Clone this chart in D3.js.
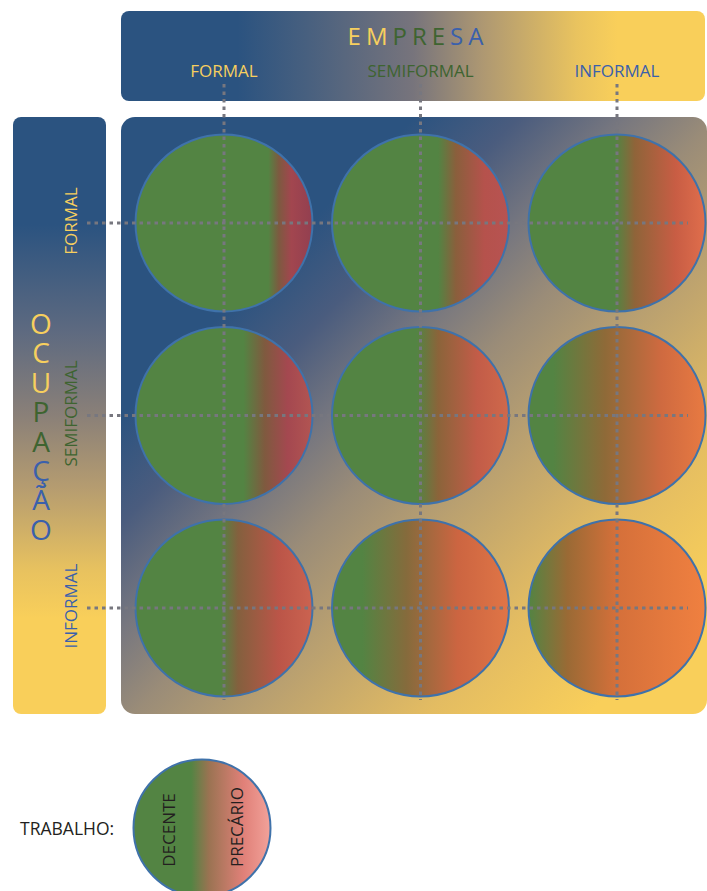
<!DOCTYPE html>
<html>
<head>
<meta charset="utf-8">
<script src="https://cdn.jsdelivr.net/npm/d3@7"></script>
<style>
  body { margin: 0; background: #fff; }
  text { font-family: "Open Sans", sans-serif; }
</style>
</head>
<body>
<div id="viz"></div>
<script>

/********
 * DATA *
 ********/

var EMPRESA = ["FORMAL", "SEMIFORMAL", "INFORMAL"];
var OCUPACAO = ["FORMAL", "SEMIFORMAL", "INFORMAL"];
var TITULO_EMPRESA = ["E", "M", "P", "R", "E", "S", "A"];
var TITULO_OCUPACAO = ["O", "C", "U", "P", "A", "Ç", "Ã", "O"];

// share of each circle (left to right) that is decent work, then the
// brown transition and where precarious work takes over; rows = ocupação
var DECENTE_ATE = [[0.75, 0.60, 0.49], [0.61, 0.48, 0.14], [0.48, 0.17, 0.00]];
var TRANSICAO_EM = [[0.81, 0.70, 0.60], [0.73, 0.60, 0.43], [0.58, 0.42, 0.22]];
var PRECARIO_DE = [[0.88, 0.86, 0.83], [0.86, 0.82, 0.75], [0.81, 0.71, 0.50]];
var COR_TRANSICAO = [["#7d5a40", "#8a5f3c", "#8f6439"], ["#7f5a3f", "#8b643a", "#8e6a38"], ["#84603e", "#856b3c", "#9a6a35"]];
var COR_PRECARIO = [["#a2464f", "#b5524c", "#c85d44"], ["#a44850", "#c25c48", "#cf6a40"], ["#bb5548", "#cc6541", "#d5703a"]];
var COR_FIM = [["#923f50", "#b75352", "#e06e4c"], ["#b25552", "#d0694b", "#e87a42"], ["#cb6350", "#e07546", "#f08040"]];

var LEGENDA = ["DECENTE", "PRECÁRIO"];

/**********
 * STYLES *
 **********/

var W = 707, H = 891;
var BLUE = "#2b5380", YELLOW = "#f9cf5a";
var GREEN = "#538443";
var LEVEL_COLORS = ["#f7cf5e", "#3e6430", "#3a60ac"];
var DOT = "#77777f";
var R = 88.5;

var svg = d3.select("#viz").append("svg")
    .attr("width", W)
    .attr("height", H);

var defs = svg.append("defs");

function gradient(id, x1, y1, x2, y2, stops) {
    var g = defs.append("linearGradient")
        .attr("id", id)
        .attr("x1", x1).attr("y1", y1)
        .attr("x2", x2).attr("y2", y2);
    g.selectAll("stop").data(stops).enter().append("stop")
        .attr("offset", function(d){ return d[0]; })
        .attr("stop-color", function(d){ return d[1]; });
    return "url(#" + id + ")";
}

var headerFill = gradient("gHeader", 0, 0, 1, 0, [
    [0, BLUE], [0.2, BLUE], [0.32, "#48607f"], [0.5, "#77747c"],
    [0.62, "#ae9872"], [0.78, "#e9c35f"], [0.85, YELLOW], [1, YELLOW]]);

var sideFill = gradient("gSide", 0, 0, 0, 1, [
    [0, BLUE], [0.18, BLUE], [0.36, "#5e6a80"], [0.5, "#8a8078"],
    [0.62, "#b59c70"], [0.76, "#e8c25f"], [0.84, YELLOW], [1, YELLOW]]);

var panelFill = gradient("gPanel", 0, 0, 1, 1, [
    [0, BLUE], [0.25, BLUE], [0.34, "#4a5c7e"], [0.43, "#77777f"],
    [0.51, "#9a8c78"], [0.61, "#b9a070"], [0.76, "#e3bc62"], [0.9, YELLOW], [1, YELLOW]]);

/*********
 * BOXES *
 *********/

svg.append("rect").attr("x", 121).attr("y", 11).attr("width", 584).attr("height", 90)
    .attr("rx", 8).style("fill", headerFill);
svg.append("rect").attr("x", 13).attr("y", 117).attr("width", 93).attr("height", 597)
    .attr("rx", 8).style("fill", sideFill);
svg.append("rect").attr("x", 121).attr("y", 117).attr("width", 586).attr("height", 597)
    .attr("rx", 14).style("fill", panelFill);

/**********
 * SCALES *
 **********/

var x = d3.scalePoint().domain(EMPRESA).range([224, 617]);
var y = d3.scalePoint().domain(OCUPACAO).range([223, 608]);

/***********
 * CIRCLES *
 ***********/

var cells = [];
OCUPACAO.forEach(function(o, i){
    EMPRESA.forEach(function(e, j){
        cells.push({ o: o, e: e, i: i, j: j });
    });
});

cells.forEach(function(d){
    var start = d.i === 2 && d.j === 2 ? "#5e7c3c" : GREEN;
    d.fill = gradient("gCell" + d.i + d.j, 0, 0, 1, 0, [
        [0, start],
        [DECENTE_ATE[d.i][d.j], GREEN],
        [TRANSICAO_EM[d.i][d.j], COR_TRANSICAO[d.i][d.j]],
        [PRECARIO_DE[d.i][d.j], COR_PRECARIO[d.i][d.j]],
        [1, COR_FIM[d.i][d.j]]]);
});

svg.append("g").selectAll("circle")
    .data(cells)
    .enter()
    .append("circle")
    .attr("cx", function(d){ return x(d.e); })
    .attr("cy", function(d){ return y(d.o); })
    .attr("r", R)
    .style("fill", function(d){ return d.fill; })
    .style("stroke", "#3f72aa")
    .style("stroke-width", 2);

/****************
 * DOTTED LINES *
 ****************/

var lines = svg.append("g")
    .style("stroke", DOT)
    .style("stroke-width", 3)
    .style("stroke-dasharray", "3.5,4");

lines.selectAll("line.v").data(EMPRESA).enter().append("line")
    .attr("class", "v")
    .attr("x1", function(d){ return x(d); }).attr("x2", function(d){ return x(d); })
    .attr("y1", 84).attr("y2", 700);

lines.selectAll("line.h").data(OCUPACAO).enter().append("line")
    .attr("class", "h")
    .attr("y1", function(d){ return y(d); }).attr("y2", function(d){ return y(d); })
    .attr("x1", 87).attr("x2", 688);

/**********
 * LABELS *
 **********/

var titleColor = function(i, n){
    return n === 7 ? LEVEL_COLORS[i < 2 ? 0 : i < 5 ? 1 : 2]
                   : LEVEL_COLORS[i < 3 ? 0 : i < 5 ? 1 : 2];
};

var empresa = svg.append("text")
    .attr("x", 418).attr("y", 45)
    .attr("text-anchor", "middle")
    .style("font-size", "24px")
    .style("letter-spacing", "5px");
empresa.selectAll("tspan").data(TITULO_EMPRESA).enter().append("tspan")
    .style("fill", function(d, i){ return titleColor(i, 7); })
    .text(function(d){ return d; });

svg.selectAll("text.col").data(EMPRESA).enter().append("text")
    .attr("class", "col")
    .attr("x", function(d){ return x(d); })
    .attr("y", 77)
    .attr("text-anchor", "middle")
    .style("font-size", "17px")
    .style("fill", function(d, i){ return LEVEL_COLORS[i]; })
    .text(function(d){ return d; });

// "OCUPAÇÃO" stacked upright as one vertical text
var ocupacao = svg.append("text")
    .attr("x", 41).attr("y", 304)
    .style("writing-mode", "vertical-rl")
    .style("text-orientation", "upright")
    .style("font-size", "28px")
    .style("letter-spacing", "-8.6px");
ocupacao.selectAll("tspan").data(TITULO_OCUPACAO).enter().append("tspan")
    .style("fill", function(d, i){ return titleColor(i, 8); })
    .text(function(d){ return d; });

svg.selectAll("text.row").data(OCUPACAO).enter().append("text")
    .attr("class", "row")
    .attr("transform", function(d){ return "translate(77," + (y(d) - 2) + ") rotate(-90)"; })
    .attr("text-anchor", "middle")
    .style("font-size", "17px")
    .style("fill", function(d, i){ return LEVEL_COLORS[i]; })
    .text(function(d){ return d; });

/**********
 * LEGEND *
 **********/

var legendFill = gradient("gLegend", 0, 0, 1, 0, [
    [0, GREEN], [0.42, GREEN], [0.55, "#9a7352"], [0.8, "#e08078"], [1, "#f2a29a"]]);

svg.append("text")
    .attr("x", 20).attr("y", 835)
    .style("font-size", "17.5px")
    .style("fill", "#231f20")
    .text("TRABALHO:");

svg.append("circle")
    .attr("cx", 202).attr("cy", 828).attr("r", 68.5)
    .style("fill", legendFill)
    .style("stroke", "#3f72aa")
    .style("stroke-width", 2);

svg.selectAll("text.leg").data(LEGENDA).enter().append("text")
    .attr("class", "leg")
    .attr("transform", function(d, i){ return "translate(" + (i ? 243 : 175) + "," + (i ? 827 : 830) + ") rotate(-90)"; })
    .attr("text-anchor", "middle")
    .style("font-size", "17px")
    .style("fill", "#231f20")
    .text(function(d){ return d; });

</script>
</body>
</html>
